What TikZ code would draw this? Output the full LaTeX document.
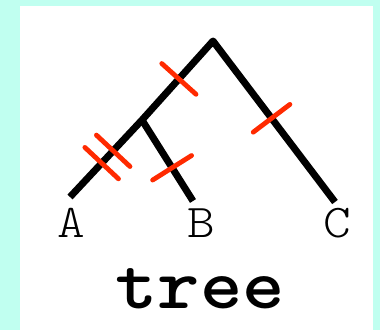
\documentclass[tikz,border=0pt]{standalone}
\usepackage{fontspec}
\newfontfamily\lightmono{Latin Modern Mono Light}
\usetikzlibrary{calc}
\definecolor{bgcyan}{HTML}{C0FFF0}
\definecolor{tickred}{HTML}{FF2A00}
\tikzset{
  branch/.style={line width=7pt, line cap=butt, line join=round, black},
  tickmark/.style={line width=4.8pt, line cap=round, tickred},
  leaf/.style={font=\lightmono\fontsize{47}{47}\selectfont, anchor=base, inner sep=0pt},
  title/.style={font=\ttfamily\bfseries\fontsize{72}{72}\selectfont, anchor=base, inner sep=0pt}
}
\newcommand{\tickat}[3]{%
  \coordinate (tk) at ($(#1)!#3!(#2)$);
  \draw[tickmark] ($(tk)!23pt!90:(#2)$) -- ($(tk)!23pt!-90:(#2)$);}
\newcommand{\wide}[2]{\scalebox{#1}[1]{#2}}
\begin{document}
\begin{tikzpicture}[x=1pt,y=-1pt]
  \fill[bgcyan] (0,0) rectangle (380,330);
  \fill[white] (20,6) rectangle (373,330);
  \useasboundingbox (0,0) rectangle (380,330);
  \coordinate (root) at (213,41);
  \coordinate (inner) at (142,120);
  \coordinate (A) at (70,197);
  \coordinate (B) at (193,201);
  \coordinate (C) at (335,202);
  \draw[branch] (A) -- (inner) -- (root) -- (C);
  \draw[branch] (inner) -- (B);
  \tickat{root}{inner}{0.48}
  \tickat{inner}{A}{0.40}
  \tickat{inner}{A}{0.56}
  \tickat{inner}{B}{0.59}
  \tickat{root}{C}{0.48}
  \node[leaf] (la) at (71,237) {\wide{1.12}{A}};
  \node[leaf] (lb) at (201,237) {\wide{1.12}{B}};
  \node[leaf] (lc) at (337,237) {\wide{1.12}{C}};
  \node[title] (t) at (200,308) {\wide{1.12}{tree}};
\end{tikzpicture}
\end{document}
